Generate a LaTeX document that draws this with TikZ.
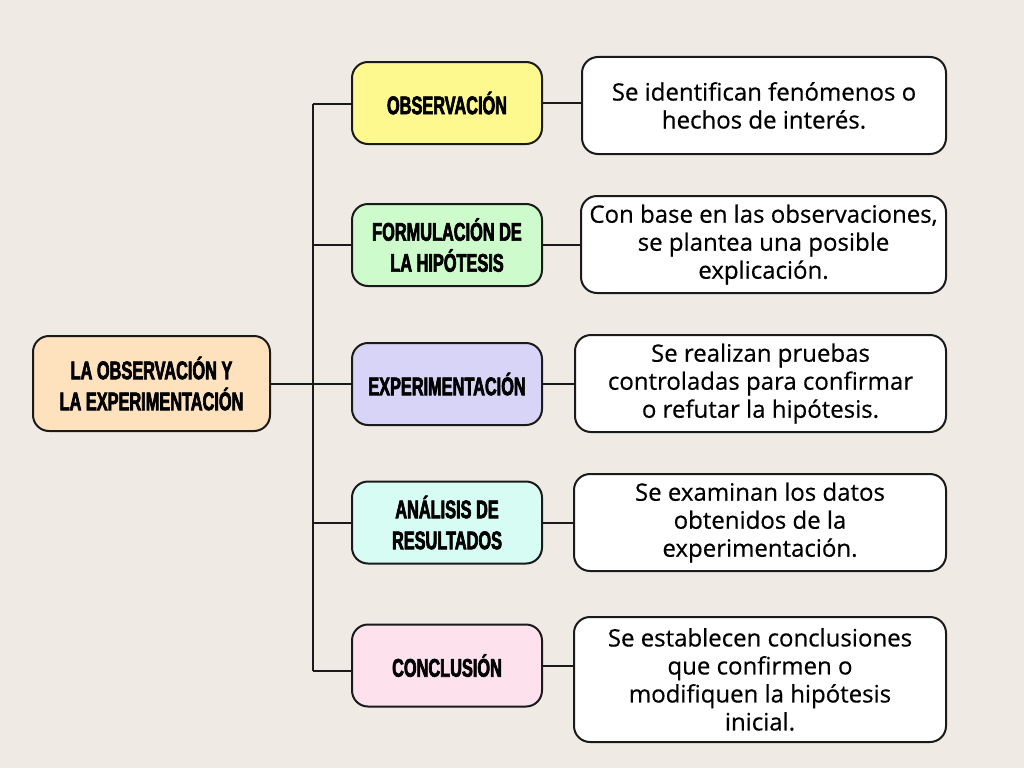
\documentclass[tikz,border=0pt]{standalone}
\usepackage{fontspec}
\setmainfont{Open Sans}[FakeBold=0.5]
\newfontfamily\headfont[FakeStretch=0.64,FakeBold=2.5]{Liberation Sans}
\definecolor{bgpaper}{HTML}{EFEBE4}
\definecolor{cyellow}{HTML}{FDF98E}
\definecolor{cgreen}{HTML}{CDFBCB}
\definecolor{clav}{HTML}{D8D4F7}
\definecolor{cmint}{HTML}{D6FCF4}
\definecolor{cpink}{HTML}{FDE1ED}
\definecolor{cpeach}{HTML}{FDE2BD}
\definecolor{ink}{HTML}{1A1A1A}
\tikzset{
  basebox/.style={draw=ink, line width=2pt, rounded corners=16pt, inner sep=0pt, align=center},
  headbox/.style={basebox, minimum width=190pt, minimum height=82pt,
     font=\headfont\bfseries\fontsize{25.5}{31}\selectfont},
  mainbox/.style={basebox, minimum width=237pt, minimum height=95pt,
     font=\headfont\bfseries\fontsize{25.5}{31}\selectfont, fill=cpeach},
  descbox/.style={basebox, fill=white, minimum height=97pt,
     font=\fontsize{24}{28}\selectfont},
  link/.style={draw=ink, line width=2pt}
}
\begin{document}
\begin{tikzpicture}[x=1pt,y=-1pt]
\fill[bgpaper] (0,0) rectangle (1024,768);
\useasboundingbox (0,0) rectangle (1024,768);

\node[mainbox] (main) at (151.5,383.5) {LA OBSERVACIÓN Y\\LA EXPERIMENTACIÓN};

\node[headbox, fill=cyellow] (obs) at (447,103) {OBSERVACIÓN};
\node[headbox, fill=cgreen] (hip) at (447,245) {FORMULACIÓN DE\\LA HIPÓTESIS};
\node[headbox, fill=clav] (exp) at (447,384) {EXPERIMENTACIÓN};
\node[headbox, fill=cmint] (ana) at (447,522.5) {ANÁLISIS DE\\RESULTADOS};
\node[headbox, fill=cpink] (con) at (447,665.5) {CONCLUSIÓN};

\node[descbox, minimum width=364pt] (d1) at (764,105.5) {Se identifican fenómenos o\\hechos de interés.};
\node[descbox, minimum width=365pt] (d2) at (763.5,244.5) {Con base en las observaciones,\\se plantea una posible\\explicación.};
\node[descbox, minimum width=371pt] (d3) at (760.5,383.5) {Se realizan pruebas\\controladas para confirmar\\o refutar la hipótesis.};
\node[descbox, minimum width=372pt] (d4) at (760,522.5) {Se examinan los datos\\obtenidos de la\\experimentación.};
\node[descbox, minimum width=372pt, minimum height=125pt] (d5) at (760,679.5) {Se establecen conclusiones\\que confirmen o\\modifiquen la hipótesis\\inicial.};

\coordinate (stop) at (313,104);
\coordinate (sbot) at (313,671);
\coordinate (sjoin) at (313,383.5);

\draw[link] (stop) -- (sbot);
\draw[link] (main.east) -- (sjoin);
\draw[link] (stop) -- (stop -| obs.west);
\draw[link] (hip.west -| stop) -- (hip.west);
\draw[link] (exp.west -| stop) -- (exp.west);
\draw[link] (ana.west -| stop) -- (ana.west);
\draw[link] (sbot) -- (sbot -| con.west);

\draw[link] (obs.east) -- (obs.east -| d1.west);
\draw[link] (hip.east) -- (hip.east -| d2.west);
\draw[link] (exp.east) -- (exp.east -| d3.west);
\draw[link] (ana.east) -- (ana.east -| d4.west);
\draw[link] (con.east) -- (con.east -| d5.west);
\end{tikzpicture}
\end{document}
